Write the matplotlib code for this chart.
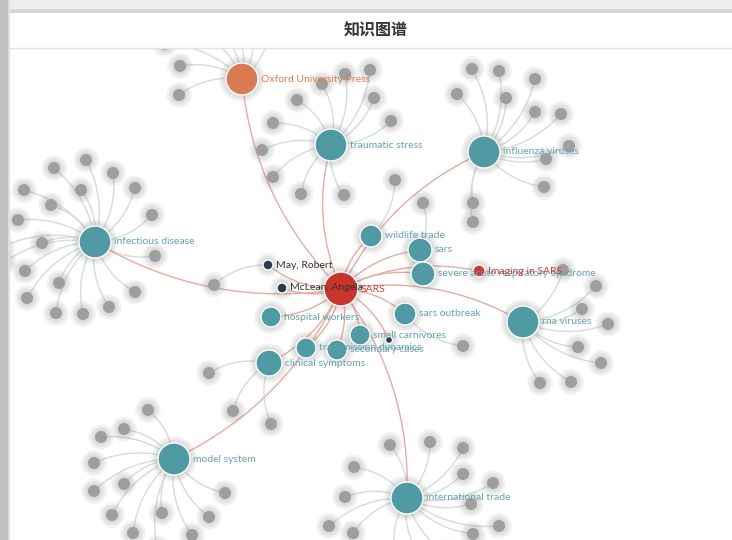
import matplotlib
matplotlib.use('Agg')
import matplotlib.pyplot as plt
from matplotlib.patches import Circle, Rectangle, PathPatch
from matplotlib.path import Path

plt.rcParams['font.family'] = ['Lato', 'DejaVu Sans']

# --- graph data (layout, pixel space) ---
node_names = ['SARS', 'Oxford University Press', 'traumatic stress', 'influenza viruses',
              'infectious disease', 'rna viruses', 'model system', 'international trade',
              'wildlife trade', 'sars', 'severe acute respiratory syndrome', 'Imaging in SARS',
              'May, Robert', 'McLean, Angela', 'sars outbreak', 'hospital workers',
              'small carnivores', '', 'transmission dynamics', 'secondary cases',
              'clinical symptoms']
node_cat = ['core', 'publisher', 'keyword', 'keyword', 'keyword', 'keyword', 'keyword', 'keyword',
            'keyword', 'keyword', 'keyword', 'paper', 'author', 'author', 'keyword', 'keyword',
            'keyword', 'author', 'keyword', 'keyword', 'keyword']
node_x = [341, 242, 331, 484, 95, 523, 174, 407, 371, 420, 423, 479, 268, 282, 405, 271, 360, 389, 306, 337, 269]
node_y = [289, 79, 145, 152, 242, 322, 459, 498, 236, 250, 274, 271, 265, 288, 314, 317, 335, 340, 348, 350, 363]
node_weight = [17, 16, 16, 16, 16, 16, 16, 16, 11, 12, 12, 6, 5, 5, 11, 10, 10, 3.5, 10, 10, 13]

leaves = {
    'Oxford University Press': [(180, 66), (179, 95), (165, 44), (196, 30), (214, 24), (232, 22), (252, 24), (270, 30)],
    'traumatic stress': [(297, 100), (273, 123), (262, 150), (273, 177), (301, 194), (344, 195),
                         (391, 121), (374, 98), (370, 70), (345, 74), (322, 84)],
    'influenza viruses': [(472, 69), (499, 71), (535, 79), (457, 94), (506, 98), (535, 112), (561, 114),
                          (569, 146), (546, 159), (544, 187), (473, 203), (473, 222)],
    'infectious disease': [(86, 160), (54, 168), (113, 173), (24, 190), (81, 190), (135, 188), (51, 205),
                           (152, 215), (18, 220), (42, 243), (155, 256), (25, 271), (59, 283), (135, 292),
                           (27, 298), (56, 313), (83, 314), (109, 307), (2, 247), (4, 262)],
    'rna viruses': [(596, 286), (582, 309), (608, 324), (578, 347), (601, 363), (540, 383), (571, 382), (563, 270)],
    'model system': [(148, 410), (124, 429), (101, 437), (94, 463), (94, 491), (124, 484), (112, 515),
                     (133, 533), (162, 513), (192, 535), (209, 517), (225, 493), (157, 548)],
    'international trade': [(390, 445), (430, 442), (463, 448), (354, 467), (463, 474), (493, 483),
                            (345, 497), (471, 504), (329, 526), (353, 533), (499, 526), (473, 534),
                            (395, 555), (420, 556), (445, 552)],
    'wildlife trade': [(395, 180)],
    'sars': [(423, 203)],
    'May, Robert': [(214, 285)],
    'sars outbreak': [(463, 346)],
    'clinical symptoms': [(209, 373), (233, 411), (271, 424)],
}

cat_color = {'core': '#c9352d', 'publisher': '#d97a52', 'keyword': '#509aa4',
             'paper': '#cc3a33', 'author': '#2c3a4b'}
label_color = {'core': '#c9433b', 'publisher': '#da7d55', 'keyword': '#66a4ac',
               'paper': '#c9433b', 'author': '#333333'}


def curve(ax, p0, p1, c, color, lw, z):
    (x0, y0), (x1, y1) = p0, p1
    dx, dy = x1 - x0, y1 - y0
    cx, cy = (x0 + x1) / 2 - c * dy, (y0 + y1) / 2 + c * dx
    path = Path([(x0, y0), (cx, cy), (x1, y1)], [Path.MOVETO, Path.CURVE3, Path.CURVE3])
    ax.add_patch(PathPatch(path, fc='none', ec=color, lw=lw, zorder=z))


def glow(ax, x, y, r, z):
    for k in range(1, 7):
        ax.add_patch(Circle((x, y), r + k * 1.2, color='#808080', alpha=0.05, lw=0, zorder=z))


fig = plt.figure(figsize=(7.32, 5.4), dpi=100)
ax = fig.add_axes([0, 0, 1, 1])
ax.set_xlim(0, 732)
ax.set_ylim(540, 0)
ax.axis('off')

pos = {n: (x, y) for n, x, y in zip(node_names, node_x, node_y)}

# --- edges ---
for hub, pts in leaves.items():
    for p in pts:
        curve(ax, pos[hub], p, 0.2, '#d3dcdc', 1.0, 1)
for n in node_names[1:]:
    curve(ax, pos[n], pos['SARS'], 0.18, '#e9aaa2', 1.0, 1.5)

# --- leaf nodes ---
for hub, pts in leaves.items():
    for (x, y) in pts:
        glow(ax, x, y, 6, 2)
        ax.add_patch(Circle((x, y), 6, color='#9e9e9e', lw=0, zorder=2.5))

# --- named nodes ---
for n, c, x, y, r in zip(node_names, node_cat, node_x, node_y, node_weight):
    glow(ax, x, y, r, 3)
    ax.add_patch(Circle((x, y), r, fc=cat_color[c], ec='white', lw=1.0, zorder=3.5))
    if n:
        ax.text(x + r + 3, y, n, color=label_color[c], fontsize=7.5, va='center', ha='left', zorder=4)

# --- screenshot frame and title bar ---
ax.add_patch(Rectangle((0, 0), 732, 13, fc='#eeeeee', lw=0, zorder=10))
ax.add_patch(Rectangle((0, 9), 732, 4, fc='#d6d6d6', lw=0, zorder=10))
ax.add_patch(Rectangle((0, 0), 8, 540, fc='#c2c2c2', lw=0, zorder=10))
ax.add_patch(Rectangle((8, 0), 2, 540, fc='#dedede', lw=0, zorder=10))
ax.add_patch(Rectangle((10, 13), 722, 35, fc='white', lw=0, zorder=10))
ax.plot([10, 732], [48, 48], color='#e4e4e4', lw=1, zorder=11)
ax.text(376, 31, '知识图谱', fontsize=11.5, fontweight='bold', color='#333333',
        ha='center', va='center', family=['Noto Sans CJK SC', 'DejaVu Sans'], zorder=12)

fig.savefig('out.png', dpi=100, facecolor='white')
